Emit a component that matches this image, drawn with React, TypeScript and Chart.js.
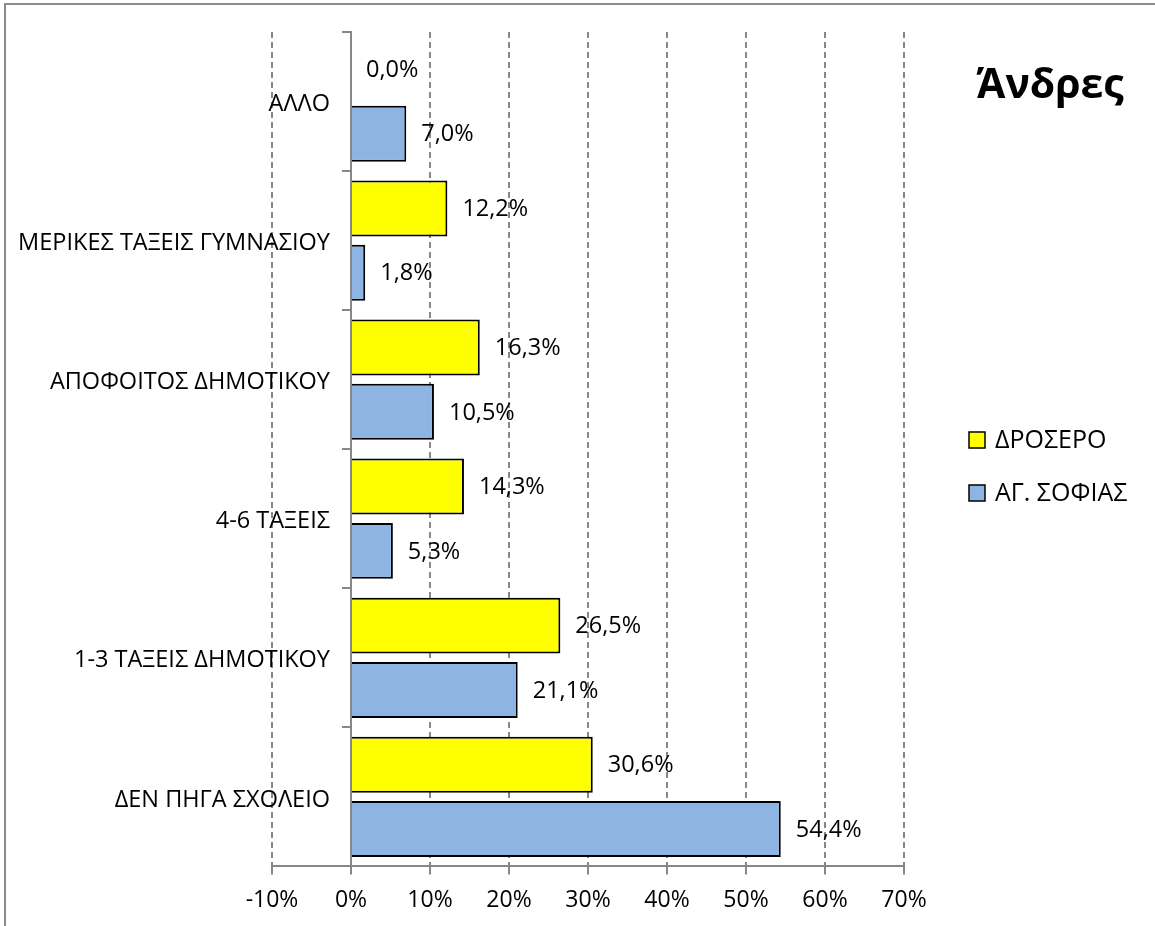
import React, { useEffect, useRef } from "react";
import { Chart, registerables } from "chart.js";

Chart.register(...registerables);

const categories = [
  "ΑΛΛΟ",
  "ΜΕΡΙΚΕΣ ΤΑΞΕΙΣ ΓΥΜΝΑΣΙΟΥ",
  "ΑΠΟΦΟΙΤΟΣ ΔΗΜΟΤΙΚΟΥ",
  "4-6 ΤΑΞΕΙΣ",
  "1-3 ΤΑΞΕΙΣ ΔΗΜΟΤΙΚΟΥ",
  "ΔΕΝ ΠΗΓΑ ΣΧΟΛΕΙΟ",
];
const seriesNames = ["ΔΡΟΣΕΡΟ", "ΑΓ. ΣΟΦΙΑΣ"];
const droseroValues = [0.0, 12.2, 16.3, 14.3, 26.5, 30.6];
const agSofiasValues = [7.0, 1.8, 10.5, 5.3, 21.1, 54.4];
const xMin = -10;
const xMax = 70;
const xStep = 10;
const chartTitle = "Άνδρες";

const FONT = "'Open Sans', sans-serif";
const GRAY = "#878787";

const fmt = (v: number) => v.toFixed(1).replace(".", ",") + "%";

const decorPlugin = {
  id: "decor",
  afterDraw(chart: any) {
    const ctx = chart.ctx;
    ctx.save();
    // outer frame (left & top visible)
    ctx.strokeStyle = "#8c8c8c";
    ctx.lineWidth = 2;
    ctx.beginPath();
    ctx.moveTo(5, 960);
    ctx.lineTo(5, 4);
    ctx.lineTo(1200, 4);
    ctx.stroke();

    // data labels
    ctx.fillStyle = "#000";
    ctx.font = `23.5px ${FONT}`;
    ctx.textAlign = "left";
    ctx.textBaseline = "middle";
    chart.data.datasets.forEach((ds: any, di: number) => {
      const meta = chart.getDatasetMeta(di);
      meta.data.forEach((el: any, i: number) => {
        ctx.fillText(fmt(ds.data[i]), el.x + 15, el.y + 1);
      });
    });

    // category labels
    const yScale = chart.scales.y;
    const axisX = chart.scales.x.getPixelForValue(0);
    ctx.textAlign = "right";
    ctx.font = `23.5px ${FONT}`;
    chart.data.labels.forEach((lab: string, i: number) => {
      ctx.fillText(lab, axisX - 21, yScale.getPixelForTick(i) + 3);
    });

    // title
    ctx.font = `bold 41px ${FONT}`;
    ctx.textAlign = "center";
    ctx.fillText(chartTitle, 1050, 86);

    // legend
    ctx.font = `25px ${FONT}`;
    ctx.textAlign = "left";
    const legendY = [440, 493];
    chart.data.datasets.forEach((ds: any, di: number) => {
      const cy = legendY[di];
      ctx.fillStyle = ds.backgroundColor;
      ctx.fillRect(969, cy - 8, 16, 16);
      ctx.strokeStyle = "#000";
      ctx.lineWidth = 1.5;
      ctx.strokeRect(969, cy - 8, 16, 16);
      ctx.fillStyle = "#000";
      ctx.fillText(ds.label, 995, cy + 1);
    });
    ctx.restore();
  },
};

export default function App() {
  const ref = useRef<HTMLCanvasElement>(null);
  useEffect(() => {
    if (!ref.current) return;
    const chart = new Chart(ref.current, {
      type: "bar",
      data: {
        labels: categories,
        datasets: [
          {
            label: seriesNames[0],
            data: droseroValues,
            backgroundColor: "#FFFF00",
            borderColor: "#000",
            borderWidth: 2,
            borderSkipped: "start",
          },
          {
            label: seriesNames[1],
            data: agSofiasValues,
            backgroundColor: "#8EB4E3",
            borderColor: "#000",
            borderWidth: 2,
            borderSkipped: "start",
          },
        ],
      },
      options: {
        indexAxis: "y",
        animation: false,
        responsive: false,
        devicePixelRatio: 1,
        categoryPercentage: 0.925,
        barPercentage: 0.87,
        layout: { padding: { left: 272, right: 251, top: 32, bottom: 0 } },
        plugins: {
          legend: { display: false },
          tooltip: { enabled: false },
          title: { display: false },
        },
        scales: {
          x: {
            type: "linear",
            position: "bottom",
            min: xMin,
            max: xMax,
            ticks: {
              stepSize: xStep,
              color: "#000",
              padding: 12,
              font: { family: FONT, size: 23 },
              callback: (v: any) => v + "%",
            },
            grid: {
              color: GRAY,
              lineWidth: 2,
              tickLength: 8,
              drawTicks: true,
              tickBorderDash: [],
            },
            border: { display: true, color: GRAY, width: 2, dash: [6, 4] },
          },
          y: {
            type: "category",
            position: { x: 0 } as any,
            z: 1,
            ticks: { display: false },
            grid: {
              offset: true,
              drawOnChartArea: false,
              drawTicks: true,
              tickLength: 8,
              color: GRAY,
              lineWidth: 2,
            },
            border: { display: true, color: GRAY, width: 2 },
          },
        },
      },
      plugins: [decorPlugin],
    });
    return () => chart.destroy();
  }, []);
  return (
    <div style={{ position: "absolute", left: 0, top: 0, width: 1155, height: 926, background: "#fff" }}>
      <canvas ref={ref} width={1155} height={926} />
    </div>
  );
}
